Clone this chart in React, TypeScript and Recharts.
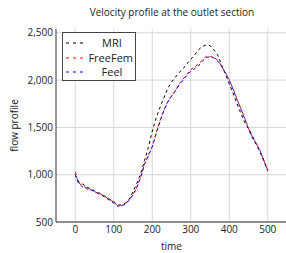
import React from 'react';
import { LineChart, Line, XAxis, YAxis, CartesianGrid } from 'recharts';

const times = [0, 5, 10, 20, 30, 40, 50, 60, 70, 80, 90, 100, 110, 120, 130, 140, 150, 160, 170, 180, 190, 200, 210, 220, 230, 240, 250, 260, 270, 280, 290, 300, 310, 320, 330, 340, 350, 360, 370, 380, 390, 400, 410, 420, 430, 440, 450, 460, 470, 480, 490, 500];
const mri = [1000, 950, 920, 900, 870, 850, 830, 810, 790, 765, 740, 715, 680, 680, 700, 740, 820, 910, 1010, 1150, 1290, 1460, 1600, 1710, 1810, 1910, 1980, 2030, 2080, 2120, 2170, 2220, 2265, 2320, 2355, 2370, 2365, 2320, 2265, 2160, 2065, 1960, 1860, 1750, 1650, 1555, 1490, 1410, 1330, 1250, 1150, 1040];
const freefem = [1030, 960, 910, 880, 860, 840, 820, 805, 785, 760, 735, 710, 670, 672, 695, 730, 790, 870, 975, 1120, 1210, 1300, 1440, 1570, 1680, 1770, 1830, 1890, 1960, 2010, 2060, 2110, 2140, 2170, 2210, 2250, 2250, 2240, 2210, 2150, 2080, 2005, 1910, 1800, 1700, 1600, 1490, 1400, 1330, 1255, 1150, 1050];
const feel = [1000, 940, 900, 870, 850, 845, 820, 800, 780, 755, 725, 700, 668, 670, 690, 728, 785, 865, 970, 1110, 1200, 1295, 1430, 1560, 1675, 1765, 1830, 1885, 1950, 2000, 2050, 2095, 2120, 2150, 2200, 2240, 2245, 2235, 2200, 2145, 2075, 2000, 1900, 1795, 1695, 1595, 1480, 1390, 1320, 1240, 1145, 1040];
const xTicks = [0, 100, 200, 300, 400, 500];
const yTicks = [500, 1000, 1500, 2000, 2500];
const seriesNames = ['MRI', 'FreeFem', 'Feel'];
const seriesColors = ['#000000', '#ff0000', '#0000ff'];

const data = times.map((t, i) => ({ t, MRI: mri[i], FreeFem: freefem[i], Feel: feel[i] }));

const FONT = '"Open Sans", sans-serif';

const LegendBox = () => (
  <div style={{ position: 'absolute', left: 62, top: 32, border: '1px solid #444', background: '#fff', width: 74, height: 49, boxSizing: 'border-box', paddingTop: 3, fontFamily: FONT }}>
    {seriesNames.map((n, i) => (
      <div key={n} style={{ display: 'flex', alignItems: 'center', height: 14.5 }}>
        <svg width={26} height={4} style={{ marginLeft: 2 }}>
          <line x1={1} y1={2} x2={22} y2={2} stroke={seriesColors[i]} strokeWidth={1} strokeDasharray="3 4" />
        </svg>
        <span style={{ flex: 1, textAlign: 'center', fontSize: 11, color: '#222', marginRight: 2, lineHeight: '14px' }}>{n}</span>
      </div>
    ))}
  </div>
);

export default function App() {
  return (
    <div style={{ position: 'absolute', left: 0, top: 0, width: 286, height: 253, overflow: 'hidden', background: '#fff' }}>
      <div style={{ position: 'absolute', left: 0, width: 344, top: 5, textAlign: 'center', fontFamily: FONT, fontSize: 10, color: '#222', lineHeight: '14px' }}>
        Velocity profile at the outlet section
      </div>
      <LineChart width={288} height={253} data={data} margin={{ top: 29, right: 1, bottom: 0, left: 6 }}>
        <CartesianGrid stroke="#d6d6d6" strokeWidth={1} horizontalValues={yTicks} verticalValues={xTicks} />
        <XAxis
          dataKey="t"
          type="number"
          domain={[-50, 550]}
          ticks={xTicks}
          height={31}
          tickLine={false}
          tickSize={0}
          tickMargin={4}
          axisLine={{ stroke: '#333', strokeWidth: 1 }}
          tick={{ fontSize: 10, fill: '#222', fontFamily: FONT }}
          label={{ value: 'time', position: 'insideBottom', offset: 3, fontSize: 10, fill: '#222', fontFamily: FONT }}
        />
        <XAxis xAxisId="top" orientation="top" dataKey="t" type="number" domain={[-50, 550]} height={0} tick={false} tickLine={false} axisLine={{ stroke: '#333', strokeWidth: 1 }} />
        <YAxis
          type="number"
          domain={[500, 2540]}
          ticks={yTicks}
          width={50}
          tickLine={false}
          tickSize={0}
          tickMargin={3}
          axisLine={{ stroke: '#333', strokeWidth: 1 }}
          tickFormatter={(v: number) => v.toLocaleString('en-US')}
          tick={{ fontSize: 10, fill: '#222', fontFamily: FONT }}
          label={{ value: 'flow profile', angle: -90, position: 'center', dx: -17, fontSize: 10, fill: '#222', fontFamily: FONT }}
        />
        {seriesNames.map((n, i) => (
          <Line key={n} xAxisId={0} dataKey={n} type="linear" stroke={seriesColors[i]} strokeWidth={1} strokeDasharray="3 3" dot={false} isAnimationActive={false} />
        ))}
      </LineChart>
      <LegendBox />
    </div>
  );
}
